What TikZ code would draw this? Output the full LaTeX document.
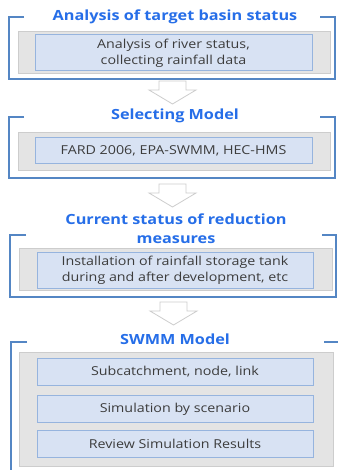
\documentclass[tikz,border=0pt]{standalone}
\usepackage{fontspec}
\setmainfont{Open Sans}
\newfontfamily\wideos[FakeStretch=1.16]{Open Sans}
\begin{document}
\begin{tikzpicture}[x=1pt,y=-1pt,
  bracket/.style={draw=brk,line width=1.8pt},
  band/.style={draw=bandline,fill=bandfill,line width=0.6pt},
  inbox/.style={draw=boxline,fill=boxfill,line width=1pt},
  title/.style={text=ttl,font=\wideos\bfseries\fontsize{14}{19}\selectfont,align=center,inner sep=0pt},
  itext/.style={text=txt,font=\wideos\fontsize{12.3}{16}\selectfont,align=center,inner sep=0pt},
  blockarrow/.style={draw=arrline,fill=white,line width=0.8pt}]
\definecolor{brk}{RGB}{84,134,196}
\definecolor{bandline}{RGB}{205,205,205}
\definecolor{bandfill}{RGB}{228,228,228}
\definecolor{boxline}{RGB}{150,180,222}
\definecolor{boxfill}{RGB}{216,226,243}
\definecolor{ttl}{RGB}{38,110,232}
\definecolor{txt}{RGB}{60,60,60}
\definecolor{arrline}{RGB}{205,205,205}
\useasboundingbox[fill=white] (0,0) rectangle (338,470);

% ---------- Section 1
\draw[bracket] (24,17) -- (9,17) -- (9,79) -- (335,79) -- (335,17) -- (320,17);
\node[title] (t1) at (175,17) {Analysis of target basin status};
\draw[band] (18,31) rectangle (330,73);
\node[inbox,minimum width=277pt,minimum height=36pt] (b1) at (173.5,53) {};
\node[itext] (x1) at (b1) {Analysis of river status,\\collecting rainfall data};

% arrow 1
\draw[blockarrow] (159,81) -- (186,81) -- (186,90) -- (196,90) -- (172.5,104) -- (149,90) -- (159,90) -- cycle;

% ---------- Section 2
\draw[bracket] (24,117) -- (9,117) -- (9,178) -- (335,178) -- (335,117) -- (320,117);
\node[title] (t2) at (175,116) {Selecting Model};
\draw[band] (18,132) rectangle (330,170);
\node[inbox,minimum width=277pt,minimum height=26pt] (b2) at (173.5,150.5) {};
\node[itext] (x2) at (b2) {FARD 2006, EPA-SWMM, HEC-HMS};

% arrow 2
\draw[blockarrow] (159,184) -- (186,184) -- (186,193) -- (196,193) -- (172.5,207) -- (149,193) -- (159,193) -- cycle;

% ---------- Section 3
\draw[bracket] (26,235) -- (10,235) -- (10,297) -- (336,297) -- (336,235) -- (322,235);
\node[title] (t3) at (176,229) {Current status of reduction\\measures};
\draw[band] (19,248) rectangle (332,290);
\node[inbox,minimum width=276pt,minimum height=36pt] (b3) at (175,270) {};
\node[itext] (x3) at (b3) {Installation of rainfall storage tank\\during and after development, etc};

% arrow 3
\draw[blockarrow] (160,302) -- (187,302) -- (187,311) -- (197,311) -- (173.5,325) -- (150,311) -- (160,311) -- cycle;

% ---------- Section 4
\draw[bracket] (27,342) -- (11,342) -- (11,471);
\draw[bracket] (324,342) -- (338,342);
\node[title] (t4) at (175,339) {SWMM Model};
\draw[band] (19,352) rectangle (333,466);
\node[inbox,minimum width=276pt,minimum height=27pt] (b4) at (175,371.5) {};
\node[itext] (x4) at (b4) {Subcatchment, node, link};
\node[inbox,minimum width=276pt,minimum height=27pt] (b5) at (175,409) {};
\node[itext] (x5) at (b5) {Simulation by scenario};
\node[inbox,minimum width=276pt,minimum height=27pt] (b6) at (175,444) {};
\node[itext] (x6) at (b6) {Review Simulation Results};
\end{tikzpicture}
\end{document}
